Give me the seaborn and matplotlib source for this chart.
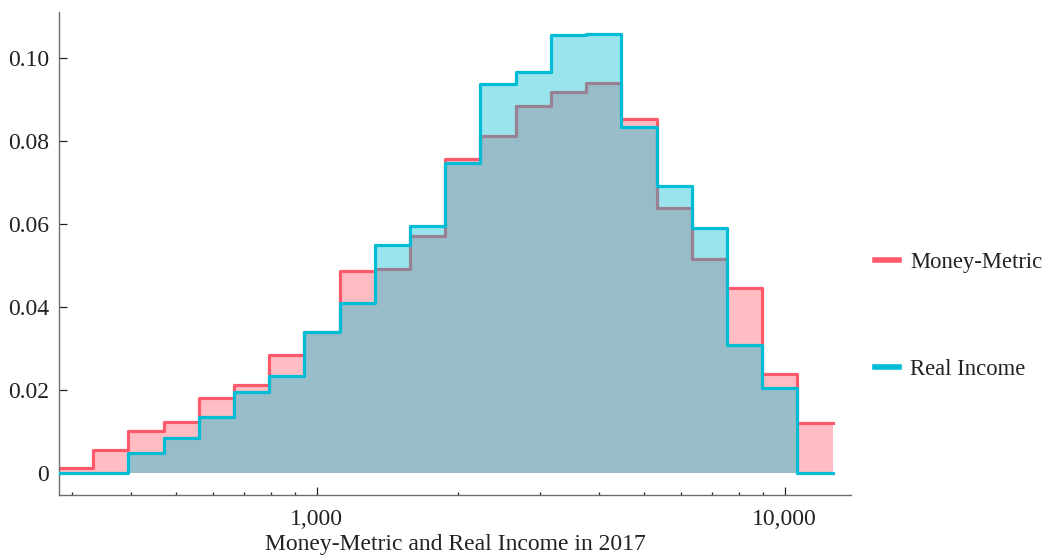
import matplotlib
matplotlib.use("Agg")
import matplotlib.pyplot as plt
from matplotlib.lines import Line2D
from matplotlib.ticker import FixedLocator, FuncFormatter, LogLocator, NullFormatter
import numpy as np
import pandas as pd
import seaborn as sns

# bin edges (income, log-spaced)
bin_edges = [280, 333, 396, 471, 560, 666, 792, 941, 1119, 1331, 1583, 1882,
             2238, 2661, 3165, 3763, 4475, 5321, 6328, 7524, 8947, 10640, 12652]

# share of population per bin
money_metric = [0.0013, 0.0055, 0.0101, 0.0123, 0.0181, 0.0212, 0.0284, 0.0340,
                0.0486, 0.0492, 0.0571, 0.0757, 0.0812, 0.0884, 0.0918, 0.0939,
                0.0854, 0.0639, 0.0517, 0.0447, 0.0238, 0.0120]
real_income = [0.0, 0.0, 0.0049, 0.0084, 0.0136, 0.0196, 0.0234, 0.0340,
               0.0411, 0.0550, 0.0596, 0.0747, 0.0937, 0.0966, 0.1055, 0.1058,
               0.0834, 0.0692, 0.0590, 0.0308, 0.0204, 0.0]

y_ticks = [0, 0.02, 0.04, 0.06, 0.08, 0.10]
x_ticks = [1000, 10000]

red = "#ff5a6b"
cyan = "#00bcd4"

plt.rcParams["font.family"] = ["Liberation Serif", "DejaVu Serif"]
plt.rcParams["font.size"] = 17

edges = np.array(bin_edges, dtype=float)
centers = np.sqrt(edges[:-1] * edges[1:])
log_edges = list(np.log10(edges))

fig = plt.figure(figsize=(10.43, 5.57), dpi=100)
ax = fig.add_axes([0.0566, 0.1113, 0.7594, 0.8677])

z = 1
for vals, col in [(money_metric, red), (real_income, cyan)]:
    df = pd.DataFrame({"income": centers, "share": vals})
    sns.histplot(data=df, x="income", weights="share", bins=log_edges,
                 log_scale=True, element="step", fill=True, color=col,
                 alpha=0.4, linewidth=0, zorder=z, ax=ax)
    sns.histplot(data=df, x="income", weights="share", bins=log_edges,
                 log_scale=True, element="step", fill=False, color=col,
                 linewidth=2.3, zorder=z + 1, ax=ax)
    z += 2

ax.set_xlim(281.4, 13860)
ax.set_ylim(-0.0053, 0.1112)

ax.xaxis.set_major_locator(FixedLocator(x_ticks))
ax.xaxis.set_major_formatter(FuncFormatter(lambda v, p: f"{v:,.0f}"))
ax.xaxis.set_minor_locator(LogLocator(base=10, subs=np.arange(2, 10)))
ax.xaxis.set_minor_formatter(NullFormatter())
ax.set_yticks(y_ticks)
ax.yaxis.set_major_formatter(FuncFormatter(lambda v, p: "0" if abs(v) < 1e-9 else f"{v:.2f}"))

for s in ["top", "right"]:
    ax.spines[s].set_visible(False)
for s in ["left", "bottom"]:
    ax.spines[s].set_color("#6e6e6e")
    ax.spines[s].set_linewidth(1.0)

ax.tick_params(axis="both", which="major", direction="in", length=5.5, width=0.9,
               color="#222222", labelsize=17, labelcolor="#222222")
ax.tick_params(axis="x", which="minor", direction="in", length=2.5, width=0.9, color="#222222")
ax.tick_params(axis="y", pad=7)
ax.tick_params(axis="x", pad=10)

ax.set_xlabel("Money-Metric and Real Income in 2017", fontsize=17, color="#222222", labelpad=3)
ax.set_ylabel("")

handles = [Line2D([0], [0], color=red, lw=4), Line2D([0], [0], color=cyan, lw=4)]
fig.legend(handles, ["Money-Metric", "Real Income"], loc="center left",
           bbox_to_anchor=(0.839, 0.4327), frameon=False, fontsize=16.3,
           borderpad=0, borderaxespad=0, handlelength=1.05, handletextpad=0.5,
           labelspacing=3.8, labelcolor="#222222")

fig.savefig("out.png", dpi=100)
